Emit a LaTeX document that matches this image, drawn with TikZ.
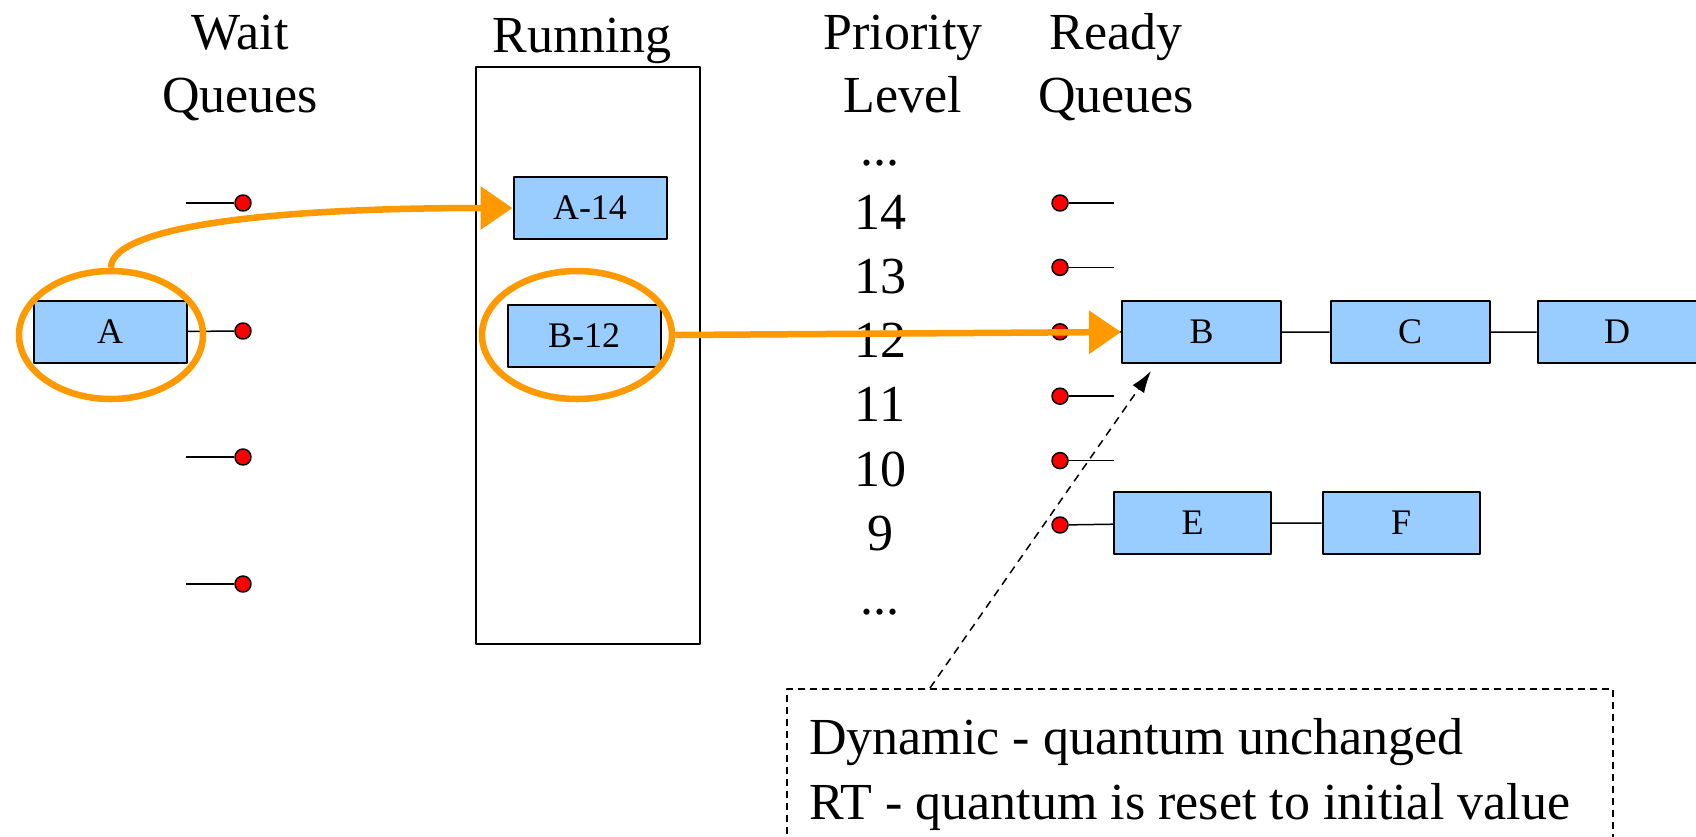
\documentclass[tikz,border=0pt]{standalone}
\usepackage{fontspec}
\setmainfont{Liberation Serif}
\usetikzlibrary{arrows.meta,shapes.geometric}
\definecolor{boxblue}{HTML}{99CCFF}
\definecolor{ringorange}{HTML}{FF9900}
\newcommand{\dts}{...}
\begin{document}
\begin{tikzpicture}[x=1pt, y=-1pt, line join=round,
    big/.style={font=\fontsize{52}{63}\selectfont, align=center, inner sep=0pt},
    proc/.style={draw, line width=2pt, fill=boxblue, minimum width=153pt, minimum height=62pt, inner sep=0pt, font=\fontsize{36}{43}\selectfont},
    qdot/.style={circle, draw, line width=1.5pt, fill=red, minimum size=16pt, inner sep=0pt},
    ring/.style={ellipse, draw=ringorange, line width=6.5pt, minimum width=184pt, minimum height=128pt, inner sep=0pt},
    hop/.style={draw=ringorange, line width=6.5pt, -{Triangle[length=32pt,width=42pt]}},
    link/.style={line width=1.5pt}]
  \clip (0,0) rectangle (1696,836);
  % column headers
  \node (waitlbl) [big, anchor=base] at (240,112) {Wait\\Queues};
  \node (runlbl) [big, anchor=base] at (582,52) {Running};
  \node (prilbl) [big, anchor=base] at (903,112) {Priority\\Level};
  \node (rdylbl) [big, anchor=base] at (1116,112) {Ready\\Queues};
  \node (run) [draw, line width=1.5pt, minimum width=224pt, minimum height=577pt, inner sep=0pt] at (588,355.5) {};
  % wait queues
  \foreach \i/\y in {1/203, 2/331, 3/457, 4/584} {
    \node (w\i) [qdot] at (243,\y) {};
    \coordinate (wl\i) at (186,\y);
  }
  \foreach \i in {1,3,4} \draw[link] (wl\i) -- (w\i);
  \node (A) [proc] at (110,332) {A};
  \draw[link] (A) -- (w2);
  % running
  \node (A14) [proc] at (590,208) {A-14};
  \node (B12) [proc] at (584,336) {B-12};
  % priority levels
  \foreach \lbl [count=\k from 0] in {\dts,14,13,12,11,10,9,\dts}
    \node (lv\k) [big, anchor=base] at (880,{165+64.2*\k}) {\lbl};
  % ready queues
  \foreach \n in {14,...,9} {
    \node (r\n) [qdot] at (1060,{203+64.4*(14-\n)}) {};
    \coordinate (re\n) at (1114,{203+64.4*(14-\n)});
  }
  \foreach \n in {14,13,11,10} \draw[link] (r\n) -- (re\n);
  \node (B) [proc, minimum width=159pt] at (1201.5,332) {B};
  \node (C) [proc, minimum width=159pt] at (1410,332) {C};
  \node (D) [proc, minimum width=159pt] at (1617,332) {D};
  \node (E) [proc, minimum width=157pt] at (1192.5,523) {E};
  \node (F) [proc, minimum width=157pt] at (1401,523) {F};
  \draw[link] (r12) -- (B) (B) -- (C) (C) -- (D);
  \draw[link] (r9) -- (E) (E) -- (F);
  % moves
  \node (eA) [ring] at (111,335) {};
  \node (eB) [ring, minimum width=190pt] at (577,335) {};
  \draw[hop] (eA.north) .. controls (111,228) and (260,208) .. (A14.west);
  \draw[hop] (eB.east) -- (B.west);
  % note
  \node (note) [draw, dashed, line width=1.5pt, dash pattern=on 7pt off 5pt, minimum width=826pt, minimum height=250pt, anchor=north west, inner sep=0pt] at (786,688) {};
  \node (dyn) [big, anchor=base west] at (809,754) {Dynamic - quantum unchanged};
  \node (rt) [big, anchor=base west] at (809,819) {RT - quantum is reset to initial value};
  \draw[link, dash pattern=on 8pt off 6pt, -{Latex[length=22pt,width=14pt]}] ([xshift=144pt]note.north west) -- ([xshift=30pt,yshift=-7pt]B.south west);
\end{tikzpicture}
\end{document}
